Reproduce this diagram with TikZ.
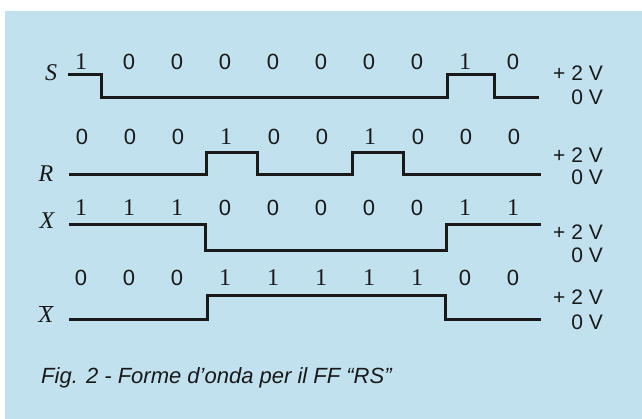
\documentclass[tikz,border=0pt]{standalone}
\usepackage{fontspec}
\setmainfont{Liberation Serif}
\setsansfont{Liberation Sans}
\definecolor{paper}{RGB}{194,225,238}
\definecolor{ink}{RGB}{25,25,25}
\newcommand\bitmark[1]{\ifnum#1=1 {\rmfamily\fontsize{24}{26}\selectfont 1}\else 0\fi}
\tikzset{
  wave/.style={draw=ink, line width=3pt, line join=miter},
  bit/.style={text=ink, inner sep=0pt, font=\sffamily\fontsize{22}{26}\selectfont},
  signame/.style={text=ink, inner sep=0pt, font=\rmfamily\itshape\fontsize{24}{28}\selectfont},
  volt/.style={text=ink, inner sep=0pt, anchor=east, font=\sffamily\fontsize{21}{24}\selectfont}
}
\begin{document}
\begin{tikzpicture}[x=1pt,y=-1pt]
  \useasboundingbox (0,0) rectangle (642,419);
  \fill[white] (0,0) rectangle (642,419);
  \fill[paper] (5,11) rectangle (642,419);
  % S
  \node[signame] (sname) at (51,73) {S};
  \foreach \b [count=\i from 0] in {1,0,0,0,0,0,0,0,1,0}
    \node[bit] (sbit\i) at ({81+48*\i},62) {\bitmark{\b}};
  \draw[wave] (68,75) -- (101,75) -- (101,98) -- (447,98) -- (447,75) -- (494,75) -- (494,98) -- (539,98);
  \node[volt] (shigh) at (603,73) {+ 2 V};
  \node[volt] (slow) at (603,97) {0 V};
  % R
  \node[signame] (rname) at (46,174) {R};
  \foreach \b [count=\i from 0] in {0,0,0,1,0,0,1,0,0,0}
    \node[bit] (rbit\i) at ({82+48*\i},137) {\bitmark{\b}};
  \draw[wave] (69,175) -- (206,175) -- (206,153) -- (257,153) -- (257,175) -- (352,175) -- (352,153) -- (403,153) -- (403,175) -- (541,175);
  \node[volt] (rhigh) at (603,155) {+ 2 V};
  \node[volt] (rlow) at (603,177) {0 V};
  % X
  \node[signame] (xname) at (47,221) {X};
  \foreach \b [count=\i from 0] in {1,1,1,0,0,0,0,0,1,1}
    \node[bit] (xbit\i) at ({81+48*\i},208) {\bitmark{\b}};
  \draw[wave] (69,225) -- (205,225) -- (205,251) -- (446,251) -- (446,225) -- (541,225);
  \node[volt] (xhigh) at (603,232) {+ 2 V};
  \node[volt] (xlow) at (603,255) {0 V};
  % X negato
  \node[signame] (nname) at (46,314) {$\overline{\mbox{X}}$};
  \foreach \b [count=\i from 0] in {0,0,0,1,1,1,1,1,0,0}
    \node[bit] (nbit\i) at ({81+48*\i},278) {\bitmark{\b}};
  \draw[wave] (69,320) -- (207,320) -- (207,296) -- (445,296) -- (445,320) -- (541,320);
  \node[volt] (nhigh) at (603,297) {+ 2 V};
  \node[volt] (nlow) at (603,322) {0 V};
  % didascalia
  \node[anchor=west, text=ink, inner sep=0pt, font=\sffamily\itshape\fontsize{22}{26}\selectfont] (caption) at (41,378) {Fig. 2 - Forme d'onda per il FF “RS”};
\end{tikzpicture}
\end{document}
